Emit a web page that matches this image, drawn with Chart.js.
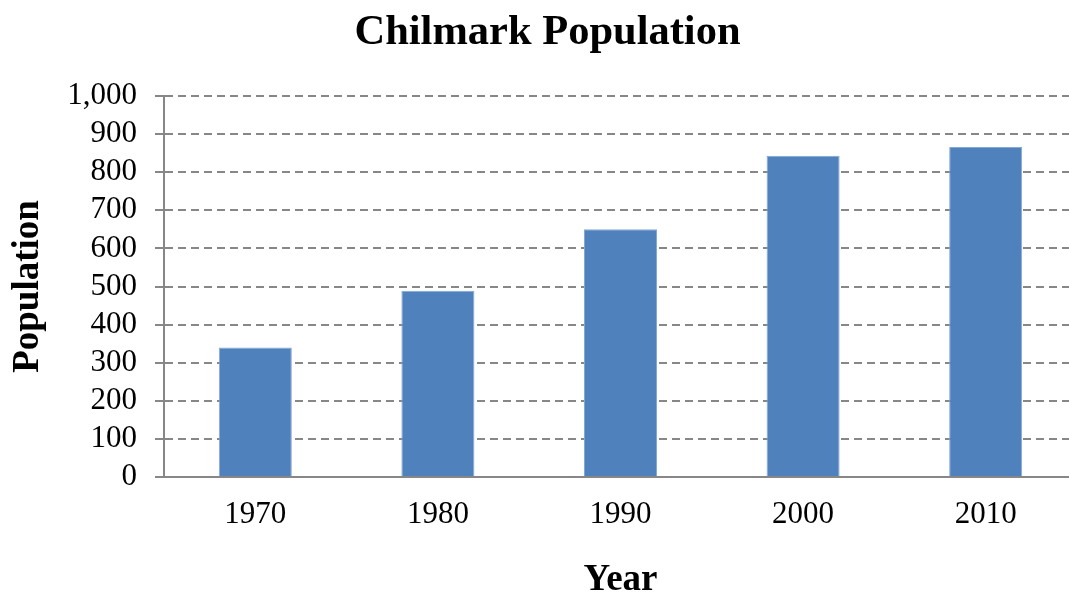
<!DOCTYPE html>
<html>
<head>
<meta charset="utf-8">
<script src="https://cdn.jsdelivr.net/npm/chart.js@4"></script>
<style>
    body { margin: 0; overflow: hidden; background: #fff; }
</style>
</head>
<body>
<canvas id="pop-chart" width="1095" height="605"></canvas>
<script>
const years = ['1970', '1980', '1990', '2000', '2010'];
const population = [340, 489, 650, 843, 866];
const yTicks = [0, 100, 200, 300, 400, 500, 600, 700, 800, 900, 1000];

const serif = '"Liberation Serif", "Times New Roman", serif';
const gridGrey = '#878787';

const ctx = document.getElementById('pop-chart').getContext('2d');
new Chart(ctx, {
    type: 'bar',
    data: {
        labels: years,
        datasets: [{
            label: 'Population',
            data: population,
            backgroundColor: '#4f81bd',
            borderColor: '#86a8d6',
            borderWidth: 1,
            barPercentage: 0.4,
            categoryPercentage: 1.0
        }]
    },
    options: {
        responsive: false,
        animation: false,
        layout: {
            padding: { left: 18, right: 18, top: 0, bottom: 0 }
        },
        plugins: {
            legend: { display: false },
            tooltip: { enabled: false },
            title: {
                display: true,
                text: 'Chilmark Population',
                color: '#000',
                font: { family: serif, size: 42.5, weight: 'bold', lineHeight: 1.2 },
                padding: { top: 8, bottom: 37 }
            }
        },
        scales: {
            x: {
                afterFit: function(scale) { scale.height = 128; },
                grid: { display: false, drawTicks: false },
                border: { display: true, color: gridGrey, width: 2 },
                ticks: {
                    color: '#000',
                    padding: 19,
                    font: { family: serif, size: 31 }
                },
                title: {
                    display: true,
                    text: 'Year',
                    color: '#000',
                    font: { family: serif, size: 37, weight: 'bold', lineHeight: 1 },
                    padding: { top: 0, bottom: 6 }
                }
            },
            y: {
                min: 0,
                max: 1000,
                afterFit: function(scale) { scale.width = 146; },
                afterBuildTicks: function(scale) {
                    scale.ticks = yTicks.map(v => ({ value: v }));
                },
                grid: {
                    color: gridGrey,
                    lineWidth: 2,
                    tickLength: 9,
                    tickColor: gridGrey,
                    tickWidth: 2
                },
                border: { display: true, color: gridGrey, width: 2, dash: [8, 5] },
                ticks: {
                    color: '#000',
                    padding: 18,
                    autoSkip: false,
                    font: { family: serif, size: 31 },
                    callback: function(value) {
                        return value.toLocaleString('en-US');
                    }
                },
                title: {
                    display: true,
                    text: 'Population',
                    color: '#000',
                    font: { family: serif, size: 37, weight: 'bold', lineHeight: 1 },
                    padding: { top: -8, bottom: 0 }
                }
            }
        }
    }
});
</script>
</body>
</html>
